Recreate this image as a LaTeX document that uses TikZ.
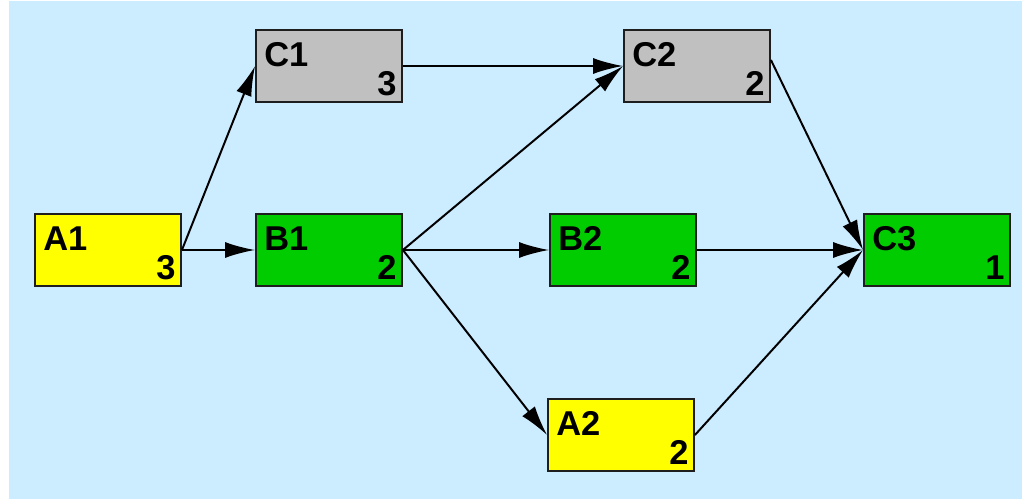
\documentclass[tikz,border=0pt]{standalone}
\usepackage{fontspec}
\setmainfont{Liberation Sans}
\usepackage{tikz}
\usetikzlibrary{arrows.meta}

\definecolor{bgblue}{RGB}{204,236,255}
\definecolor{taskyellow}{RGB}{255,255,0}
\definecolor{taskgreen}{RGB}{0,204,0}
\definecolor{taskgray}{RGB}{192,192,192}
\definecolor{edgegray}{RGB}{30,30,30}

\tikzset{
    task/.style={draw=edgegray, line width=1.3pt, minimum width=3.65cm, minimum height=1.8cm, inner sep=0pt},
    taskname/.style={anchor=north west, inner sep=0pt, font=\fontsize{24.5}{29}\selectfont\bfseries},
    taskdur/.style={anchor=south east, inner sep=0pt, font=\fontsize{24.5}{29}\selectfont\bfseries},
    link/.style={line width=1.4pt, -{Latex[length=7.5mm,width=4mm]}}
}

\begin{document}
\begin{tikzpicture}[x=0.025cm, y=-0.025cm]
        \useasboundingbox (0,0) rectangle (1022,499);
        \fill[bgblue] (9,1) rectangle (1022,499);

        % boxes
        \node[task, fill=taskyellow] (A1) at (108,250) {};
        \node[task, fill=taskgray] (C1) at (329,66) {};
        \node[task, fill=taskgreen] (B1) at (329,250) {};
        \node[task, fill=taskgray] (C2) at (697,66) {};
        \node[task, fill=taskgreen] (B2) at (623,250) {};
        \node[task, fill=taskyellow] (A2) at (621,435) {};
        \node[task, fill=taskgreen] (C3) at (937,250) {};

        % names and durations
        \node[taskname] (A1name) at ([shift={(9,13)}]A1.north west) {A1};
        \node[taskdur] (A1dur) at ([shift={(-6,-7)}]A1.south east) {3};
        \node[taskname] (C1name) at ([shift={(9,13)}]C1.north west) {C1};
        \node[taskdur] (C1dur) at ([shift={(-6,-7)}]C1.south east) {3};
        \node[taskname] (B1name) at ([shift={(9,13)}]B1.north west) {B1};
        \node[taskdur] (B1dur) at ([shift={(-6,-7)}]B1.south east) {2};
        \node[taskname] (C2name) at ([shift={(9,13)}]C2.north west) {C2};
        \node[taskdur] (C2dur) at ([shift={(-6,-7)}]C2.south east) {2};
        \node[taskname] (B2name) at ([shift={(9,13)}]B2.north west) {B2};
        \node[taskdur] (B2dur) at ([shift={(-6,-7)}]B2.south east) {2};
        \node[taskname] (A2name) at ([shift={(9,13)}]A2.north west) {A2};
        \node[taskdur] (A2dur) at ([shift={(-6,-7)}]A2.south east) {2};
        \node[taskname] (C3name) at ([shift={(9,13)}]C3.north west) {C3};
        \node[taskdur] (C3dur) at ([shift={(-6,-7)}]C3.south east) {1};

        % links
        \draw[link] (A1.east) -- (C1.west);
        \draw[link] (A1.east) -- (B1.west);
        \draw[link] (C1.east) -- (C2.west);
        \draw[link] (B1.east) -- (C2.west);
        \draw[link] (B1.east) -- (B2.west);
        \draw[link] (B1.east) -- (A2.west);
        \draw[link] ([yshift=0.15cm]C2.east) -- (C3.west);
        \draw[link] (B2.east) -- (C3.west);
        \draw[link] (A2.east) -- (C3.west);
    \end{tikzpicture}
\end{document}
